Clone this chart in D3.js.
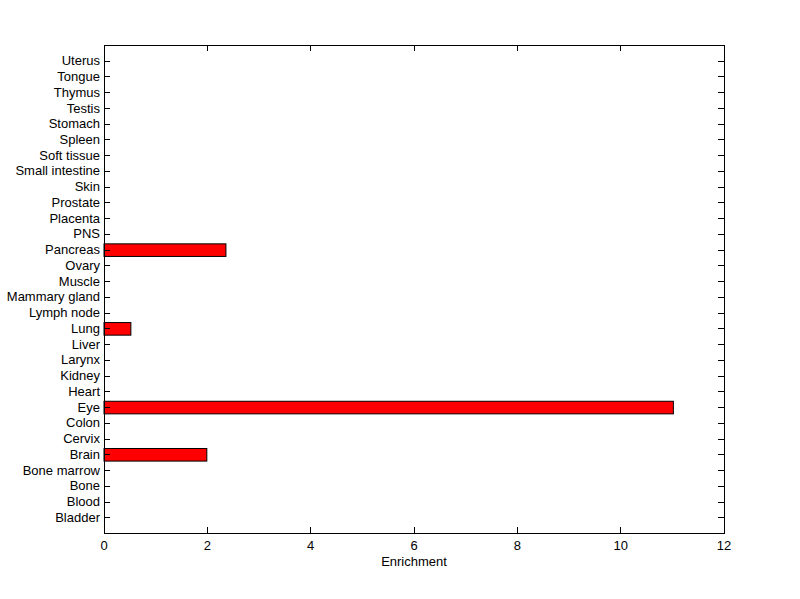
<!DOCTYPE html>
<html><head><meta charset="utf-8">
<script src="https://cdn.jsdelivr.net/npm/d3@7"></script>
<style>body{margin:0;background:#fff}svg{display:block}text{font-family:"Liberation Sans",Arial,sans-serif;font-size:13px;fill:#000}</style>
</head><body><svg id="c" width="800" height="599"></svg>
<script>
const categories = ["Bladder","Blood","Bone","Bone marrow","Brain","Cervix","Colon","Eye","Heart","Kidney","Larynx","Liver","Lung","Lymph node","Mammary gland","Muscle","Ovary","Pancreas","PNS","Placenta","Prostate","Skin","Small intestine","Soft tissue","Spleen","Stomach","Testis","Thymus","Tongue","Uterus"];
const enrichment = [0,0,0,0,1.99,0,0,11.02,0,0,0,0,0.52,0,0,0,0,2.36,0,0,0,0,0,0,0,0,0,0,0,0];
const xTicks = [0,2,4,6,8,10,12];
const xLabel = "Enrichment";

const svg = d3.select("#c");
const L=104, R=724, T=45, B=533;
const x = d3.scaleLinear().domain([0,12]).range([L,R]);
const y = d3.scaleLinear().domain([0,categories.length+1]).range([B,T]);
const bw = 0.8;
const tl = 6;

svg.append("g").selectAll("rect").data(categories.map((c,i)=>({c,v:enrichment[i],i})).filter(d=>d.v>0))
 .enter().append("rect")
 .attr("x",x(0)).attr("y",d=>y(d.i+1+bw/2)+0.5)
 .attr("width",d=>x(d.v)-x(0)).attr("height",d=>y(d.i+1-bw/2)-y(d.i+1+bw/2))
 .attr("fill","#ff0000").attr("stroke","#000").attr("stroke-width",1);

const g = svg.append("g").attr("stroke","#000").attr("stroke-width",1).attr("shape-rendering","crispEdges");
g.append("rect").attr("x",L).attr("y",T).attr("width",R-L).attr("height",B-T).attr("fill","none");
xTicks.forEach(t=>{
  g.append("line").attr("x1",x(t)).attr("x2",x(t)).attr("y1",B).attr("y2",B-tl);
  g.append("line").attr("x1",x(t)).attr("x2",x(t)).attr("y1",T).attr("y2",T+tl);
});
categories.forEach((c,i)=>{
  const yy=Math.round(y(i+1));
  g.append("line").attr("x1",L).attr("x2",L+tl).attr("y1",yy).attr("y2",yy);
  g.append("line").attr("x1",R).attr("x2",R-tl).attr("y1",yy).attr("y2",yy);
});
svg.append("g").selectAll("text").data(xTicks).enter().append("text")
 .attr("x",d=>x(d)).attr("y",B+17).attr("text-anchor","middle").text(d=>d);
svg.append("g").selectAll("text").data(categories).enter().append("text")
 .attr("x",L-4).attr("y",(d,i)=>y(i+1)).attr("dy","0.35em").attr("text-anchor","end").text(d=>d);
svg.append("text").attr("x",(L+R)/2).attr("y",B+33).attr("text-anchor","middle").text(xLabel);
</script></body></html>
